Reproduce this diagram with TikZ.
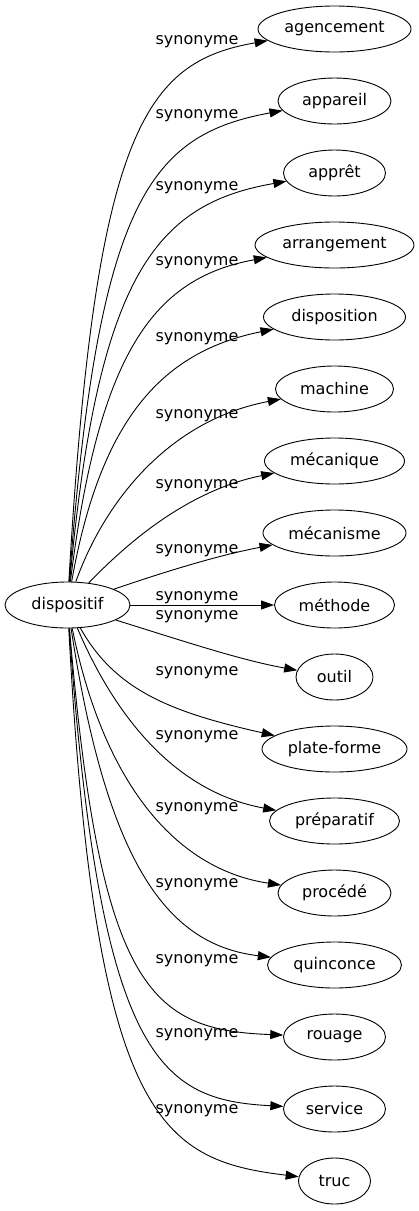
\documentclass[tikz,border=0pt]{standalone}
\usepackage{fontspec}
\setmainfont{DejaVu Sans}
\usetikzlibrary{shapes.geometric,arrows.meta}
\newcommand{\wordsize}{\fontsize{16}{19}\selectfont}
\begin{document}
\begin{tikzpicture}[x=1pt,y=-1pt]
    \tikzstyle{word}=[ellipse,draw=black,line width=0.9pt,minimum height=46pt,inner sep=0pt,font=\wordsize]
    \tikzstyle{edge}=[draw,line width=0.9pt,-{Triangle[length=13pt,width=9pt]}]
    \tikzstyle{rel}=[anchor=base,inner sep=0pt,font=\wordsize]
    \useasboundingbox (0,0) rectangle (419,1211);
    \node [word,minimum width=125pt] (disp) at (67.5,605) {dispositif};
    \begin{scope}
        \node [word,minimum width=153pt] (w1) at (334.5,29) {agencement};
        \node [word,minimum width=113pt] (w2) at (334.5,101) {appareil};
        \node [word,minimum width=102pt] (w3) at (334.5,173) {apprêt};
        \node [word,minimum width=159pt] (w4) at (334.5,245) {arrangement};
        \node [word,minimum width=142pt] (w5) at (334.5,317) {disposition};
        \node [word,minimum width=118pt] (w6) at (334.5,389) {machine};
        \node [word,minimum width=140pt] (w7) at (334.5,461) {mécanique};
        \node [word,minimum width=143pt] (w8) at (334.5,533) {mécanisme};
        \node [word,minimum width=120pt] (w9) at (334.5,605) {méthode};
        \node [word,minimum width=77pt] (w10) at (334.5,677) {outil};
        \node [word,minimum width=145pt] (w11) at (334.5,749) {plate-forme};
        \node [word,minimum width=130pt] (w12) at (334.5,821) {préparatif};
        \node [word,minimum width=113pt] (w13) at (334.5,893) {procédé};
        \node [word,minimum width=134pt] (w14) at (334.5,965) {quinconce};
        \node [word,minimum width=102pt] (w15) at (334.5,1037) {rouage};
        \node [word,minimum width=102pt] (w16) at (334.5,1109) {service};
        \node [word,minimum width=72pt] (w17) at (334.5,1181) {truc};
    \end{scope}
    % labels
    \node [rel] (l1) at (197,44) {synonyme};
    \node [rel] (l2) at (197,118) {synonyme};
    \node [rel] (l3) at (197,190) {synonyme};
    \node [rel] (l4) at (197,265) {synonyme};
    \node [rel] (l5) at (197,341) {synonyme};
    \node [rel] (l6) at (197,418) {synonyme};
    \node [rel] (l7) at (197,488) {synonyme};
    \node [rel] (l8) at (197,553) {synonyme};
    \node [rel] (l9) at (197,600) {synonyme};
    \node [rel] (l10) at (197,619) {synonyme};
    \node [rel] (l11) at (197,675) {synonyme};
    \node [rel] (l12) at (197,739) {synonyme};
    \node [rel] (l13) at (197,811) {synonyme};
    \node [rel] (l14) at (197,887) {synonyme};
    \node [rel] (l15) at (197,963) {synonyme};
    \node [rel] (l16) at (197,1037) {synonyme};
    \node [rel] (l17) at (197,1113) {synonyme};
    % edges
    \path[edge] (disp) .. controls (95,130) and (145,62) .. (w1);
    \path[edge] (disp) .. controls (98,200) and (150,135) .. (w2);
    \path[edge] (disp) .. controls (98,276) and (155,204) .. (w3);
    \path[edge] (disp) .. controls (99,350) and (155,278) .. (w4);
    \path[edge] (disp) .. controls (100,422) and (160,352) .. (w5);
    \path[edge] (disp) .. controls (105,500) and (170,420) .. (w6);
    \path[edge] (disp) .. controls (130,540) and (190,490) .. (w7);
    \path[edge] (disp) .. controls (170,570) and (220,555) .. (w8);
    \path[edge] (disp) -- (w9);
    \path[edge] (disp) .. controls (180,640) and (240,660) .. (w10);
    \path[edge] (disp) .. controls (115,690) and (170,712) .. (w11);
    \path[edge] (disp) .. controls (108,700) and (165,790) .. (w12);
    \path[edge] (disp) .. controls (105,790) and (180,870) .. (w13);
    \path[edge] (disp) .. controls (108,870) and (170,945) .. (w14);
    \path[edge] (disp) .. controls (100,990) and (150,1030) .. (w15);
    \path[edge] (disp) .. controls (100,1060) and (160,1100) .. (w16);
    \path[edge] (disp) .. controls (95,1120) and (160,1160) .. (w17);
\end{tikzpicture}
\end{document}
